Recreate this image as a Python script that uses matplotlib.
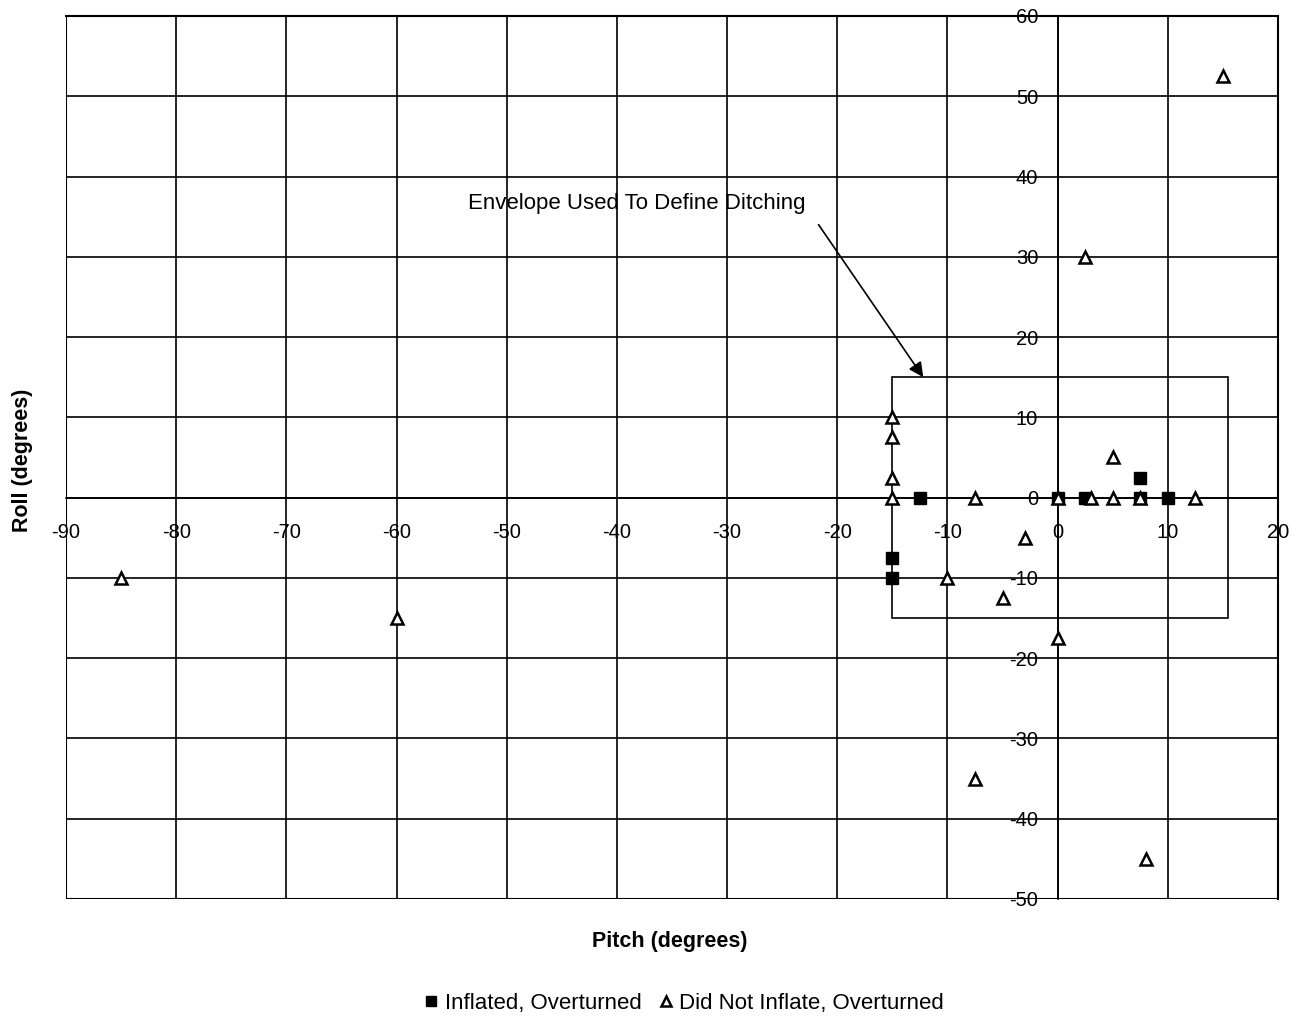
import matplotlib
matplotlib.use("Agg")
import matplotlib.pyplot as plt
from matplotlib.patches import Rectangle

plt.rcParams['font.family'] = ['Liberation Sans', 'DejaVu Sans']
plt.rcParams['axes.unicode_minus'] = False

# Inflated, Overturned (filled squares)
inflated_pitch = [-12.5, -15, -15, 0, 2.5, 7.5, 7.5, 10]
inflated_roll = [0, -7.5, -10, 0, 0, 2.5, 0, 0]

# Did Not Inflate, Overturned (open triangles)
notinfl_pitch = [-85, -60, -15, -15, -15, -15, -7.5, -10, -5, -3, 0, 0, 3, 5, 5,
                 7.5, 12.5, 2.5, 15, -7.5, 8]
notinfl_roll = [-10, -15, 10, 7.5, 2.5, 0, 0, -10, -12.5, -5, 0, -17.5, 0, 0, 5,
                0, 0, 30, 52.5, -35, -45]

x_ticks = list(range(-90, 21, 10))
y_ticks = list(range(-50, 61, 10))
envelope_x = (-15, 15.5)
envelope_y = (-15, 15)

fig = plt.figure(figsize=(13.02, 10.18), dpi=100)
ax = fig.add_axes([0.0507, 0.1169, 0.9309, 0.8674])
ax.set_xlim(-90, 20)
ax.set_ylim(-50, 60)
ax.set_xticks(x_ticks)
ax.set_yticks(y_ticks)
ax.grid(True, color='black', linewidth=1.2)
ax.set_axisbelow(True)

ax.spines['left'].set_position(('data', 0))
ax.spines['bottom'].set_position(('data', 0))
for s in ['left', 'bottom']:
    ax.spines[s].set_linewidth(1.2)
for s in ['top', 'right']:
    ax.spines[s].set_linewidth(1.5)
ax.tick_params(axis='both', length=0, labelsize=14.5)
ax.tick_params(axis='x', pad=18)
ax.tick_params(axis='y', pad=14)
for lbl in ax.get_xticklabels() + ax.get_yticklabels():
    lbl.set_zorder(5)

ax.axvline(-90, color='black', lw=1.5)
ax.axhline(-50, color='black', lw=1.5)

ax.add_patch(Rectangle((envelope_x[0], envelope_y[0]),
                       envelope_x[1] - envelope_x[0], envelope_y[1] - envelope_y[0],
                       fill=False, edgecolor='black', lw=1.2, zorder=3))

ax.plot(inflated_pitch, inflated_roll, linestyle='none', marker='s', markersize=9,
        color='black', zorder=4, label='Inflated, Overturned', clip_on=False)
ax.plot(notinfl_pitch, notinfl_roll, linestyle='none', marker='^', markersize=9,
        markerfacecolor='white', markeredgecolor='black', markeredgewidth=1.8,
        zorder=5, label='Did Not Inflate, Overturned', clip_on=False)

ax.text(-38.2, 36.7, 'Envelope Used To Define Ditching', ha='center', va='center',
        fontsize=16, zorder=6)
ax.annotate('', xy=(-12.2, 15.0), xytext=(-21.7, 34.0),
            arrowprops=dict(arrowstyle='-|>', color='black', lw=1.2,
                            shrinkA=0, shrinkB=0, mutation_scale=22), zorder=6)

fig.text(0.5146, 0.0755, 'Pitch (degrees)', ha='center', va='center',
         fontsize=15.5, fontweight='bold')
fig.text(0.017, 0.548, 'Roll (degrees)', ha='center', va='center',
         fontsize=15.5, fontweight='bold', rotation=90)

leg = fig.legend(loc='center', bbox_to_anchor=(0.524, 0.0147), ncol=2, frameon=False,
                 fontsize=16, handletextpad=0.1, columnspacing=0.6,
                 handlelength=1.0, markerscale=0.85)

fig.savefig('out.png', dpi=100)
